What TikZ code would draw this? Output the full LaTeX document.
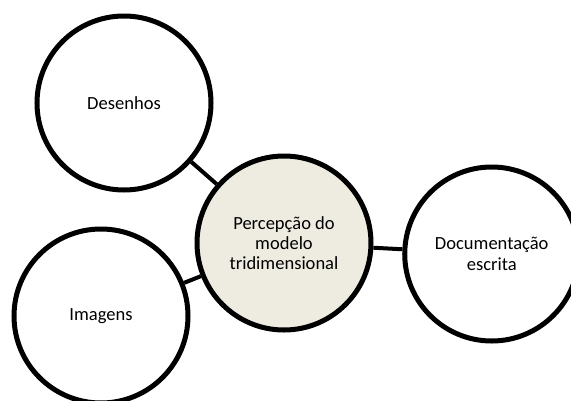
\documentclass[tikz,border=0pt]{standalone}
\usepackage{fontspec}
\setmainfont{Carlito}
\usetikzlibrary{positioning}
\definecolor{bgtan}{HTML}{EEECE1}

\begin{document}
\begin{tikzpicture}[x=0.75pt,y=-0.75pt,node distance=2cm,on grid,
            bubble/.style={circle, draw, line width=3.75pt, minimum size=130.5pt,
              inner sep=0pt, align=center, font=\fontsize{13.9}{15.2}\selectfont},
            link/.style={line width=3pt}]
            \clip (0,0) rectangle (571,400);
            \node [bubble, fill=bgtan] (cen) at (284,243) {Percepção do\\modelo\\tridimensional};
            \node [bubble] [above left =105pt and 120pt of cen] (des) {Desenhos};
            \node [bubble] [below left =54.75pt and 137.25pt of cen] (img) {Imagens};
            \node [bubble] [below right =8.25pt and 155.8pt of cen] (doc) {Documentação\\escrita};
            \path[link]
            	(des) edge (cen)
            	(img) edge (cen)
            	(cen) edge (doc);
            \end{tikzpicture}
\end{document}
